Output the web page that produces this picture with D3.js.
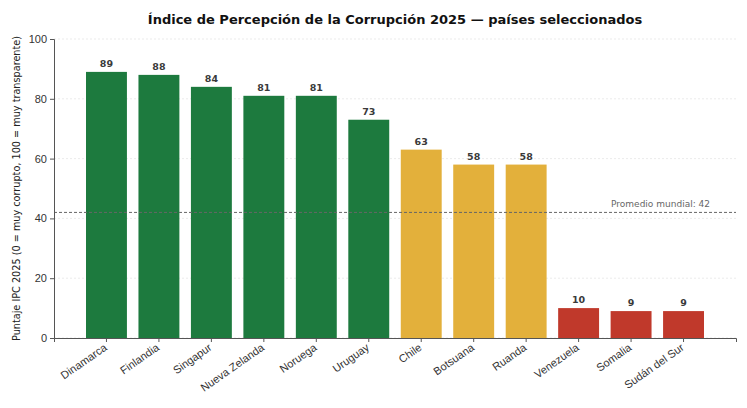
<!DOCTYPE html>
<html>
  <head>
    <meta charset="utf-8">
    <title>IPC 2025</title>
    <style>
      body {
        margin: 0;
        padding: 0;
        background: #fff;
        font-family: 'DejaVu Sans', sans-serif;
      }
    </style>
  </head>
  <body>
    <div id="chart"></div>

    <script src="https://cdnjs.cloudflare.com/ajax/libs/d3/7.8.5/d3.min.js"></script>
    <script>
      // Data
      const countries = ["Dinamarca", "Finlandia", "Singapur", "Nueva Zelanda", "Noruega", "Uruguay",
                         "Chile", "Botsuana", "Ruanda", "Venezuela", "Somalia", "Sudán del Sur"];
      const scores = [89, 88, 84, 81, 81, 73, 63, 58, 58, 10, 9, 9];
      const groups = ["alto", "alto", "alto", "alto", "alto", "alto",
                      "medio", "medio", "medio", "bajo", "bajo", "bajo"];
      const yTicks = [0, 20, 40, 60, 80, 100];
      const worldAverage = 42;

      const colors = {alto: "#1d7a3e", medio: "#e3b03b", bajo: "#c0392b"};

      const width = 747, height = 408;
      const margin = {top: 39, right: 11, bottom: 70, left: 54};

      const svg = d3.select("#chart")
                    .append("svg")
                    .attr("width", width)
                    .attr("height", height);

      // Scales
      const x = d3.scaleBand()
                  .domain(countries)
                  .range([margin.left, width - margin.right])
                  .paddingInner(0.22)
                  .paddingOuter(0.61);

      const y = d3.scaleLinear()
                  .domain([0, 100])
                  .range([height - margin.bottom, margin.top]);

      // Grid
      svg.append("g")
         .selectAll("line")
         .data(yTicks)
         .join("line")
         .attr("x1", margin.left)
         .attr("x2", width - margin.right)
         .attr("y1", d => y(d))
         .attr("y2", d => y(d))
         .attr("stroke", "#e6e6e6")
         .attr("stroke-width", 0.8)
         .attr("stroke-dasharray", "2,2");

      // Bars
      svg.append("g")
         .selectAll("rect")
         .data(countries)
         .join("rect")
         .attr("x", d => x(d))
         .attr("y", (d, i) => y(scores[i]))
         .attr("width", x.bandwidth())
         .attr("height", (d, i) => y(0) - y(scores[i]))
         .attr("fill", (d, i) => colors[groups[i]]);

      // Value labels
      svg.append("g")
         .selectAll("text")
         .data(countries)
         .join("text")
         .attr("x", d => x(d) + x.bandwidth() / 2)
         .attr("y", (d, i) => y(scores[i]) - 5)
         .attr("text-anchor", "middle")
         .attr("font-size", 9.5)
         .attr("font-weight", "bold")
         .attr("fill", "#3a3a3a")
         .text((d, i) => scores[i]);

      // Average line
      svg.append("line")
         .attr("x1", margin.left)
         .attr("x2", width - margin.right)
         .attr("y1", y(worldAverage))
         .attr("y2", y(worldAverage))
         .attr("stroke", "#666")
         .attr("stroke-width", 1)
         .attr("stroke-dasharray", "3,2");

      svg.append("text")
         .attr("x", 710)
         .attr("y", y(worldAverage) - 5)
         .attr("text-anchor", "end")
         .attr("font-size", 9)
         .attr("fill", "#666")
         .text("Promedio mundial: " + worldAverage);

      // Axes
      const xAxis = svg.append("g")
         .attr("transform", `translate(0,${y(0)})`)
         .call(d3.axisBottom(x).tickSizeOuter(0).tickSize(4));
      xAxis.select(".domain").attr("stroke", "#555");
      xAxis.selectAll(".tick line").attr("stroke", "#555");
      xAxis.selectAll("text")
           .attr("font-size", 11)
           .attr("fill", "#333")
           .attr("text-anchor", "end")
           .attr("x", 0)
           .attr("y", 0)
           .attr("dy", "0.35em")
           .attr("transform", "translate(-1,8) rotate(-35)");

      const yAxis = svg.append("g")
         .attr("transform", `translate(${margin.left},0)`)
         .call(d3.axisLeft(y).tickValues(yTicks).tickSizeOuter(0).tickSize(4));
      yAxis.select(".domain").attr("stroke", "#555");
      yAxis.selectAll(".tick line").attr("stroke", "#555");
      yAxis.selectAll("text").attr("font-size", 11).attr("fill", "#333");

      // Y label
      svg.append("text")
         .attr("transform", `translate(20,${(y(0) + y(100)) / 2}) rotate(-90)`)
         .attr("text-anchor", "middle")
         .attr("font-size", 9.7)
         .attr("fill", "#222")
         .text("Puntaje IPC 2025 (0 = muy corrupto, 100 = muy transparente)");

      // Title
      svg.append("text")
         .attr("x", (margin.left + width - margin.right) / 2)
         .attr("y", 24)
         .attr("text-anchor", "middle")
         .attr("font-size", 13)
         .attr("font-weight", "bold")
         .attr("fill", "#111")
         .text("Índice de Percepción de la Corrupción 2025 — países seleccionados");
    </script>
  </body>
</html>
